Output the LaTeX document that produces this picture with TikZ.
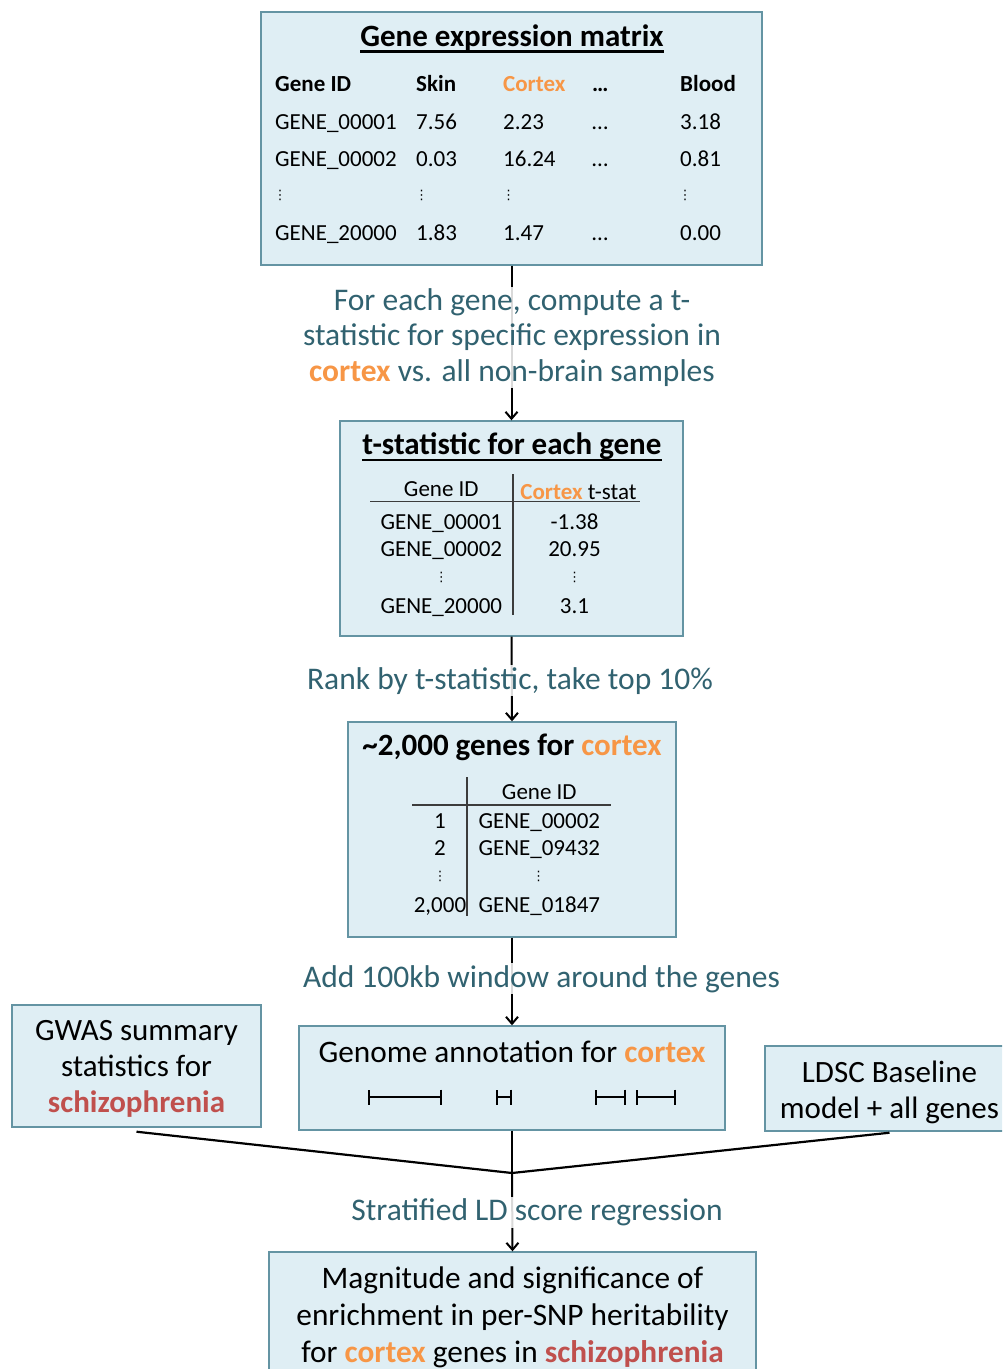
\documentclass[tikz,border=0pt]{standalone}
\usepackage{fontspec}
\setmainfont{Carlito}
\newfontfamily\dejavu{DejaVu Sans}
\usetikzlibrary{arrows.meta}
\definecolor{boxfill}{RGB}{223,238,244}
\definecolor{boxline}{RGB}{100,148,163}
\definecolor{flowtxt}{RGB}{49,98,112}
\definecolor{ctxorange}{RGB}{247,150,70}
\definecolor{sczred}{RGB}{192,80,77}
\definecolor{tabline}{RGB}{60,60,60}
\newcommand{\fsz}[1]{\fontsize{#1}{#1}\selectfont}
\newcommand{\ctxw}[1]{\textbf{\textcolor{ctxorange}{#1}}}
\newcommand{\sczw}[1]{\textbf{\textcolor{sczred}{#1}}}
\begin{document}
\begin{tikzpicture}[x=1pt,y=-1pt,
  box/.style={draw=boxline, fill=boxfill, line width=1.4pt, inner sep=0pt},
  title/.style={inner sep=0pt, anchor=base, font={\fsz{31}\bfseries}},
  cell/.style={inner sep=0pt, anchor=base west, font={\fsz{23}}},
  hcell/.style={inner sep=0pt, anchor=base west, font={\fsz{23}\bfseries}},
  ccell/.style={inner sep=0pt, anchor=base, font={\fsz{23}}},
  vd/.style={inner sep=0pt, anchor=base, font={\dejavu\fsz{13}}},
  flow/.style={text=flowtxt, font={\fontsize{31.5}{35.5}\selectfont}, align=center, fill=white, fill opacity=0.85, text opacity=1, inner sep=2pt},
  btxt/.style={font={\fontsize{31}{36}\selectfont}, align=center, inner sep=0pt},
  arr/.style={line width=2pt, -{Straight Barb[length=7pt,width=12pt,line width=2pt]}},
  conn/.style={line width=2.2pt},
  tabl/.style={draw=tabline, line width=1.6pt},
  uline/.style={line width=2.2pt},
  ival/.style={line width=2pt, {Bar[width=15pt,line width=2pt]}-{Bar[width=15pt,line width=2pt]}}
]
\useasboundingbox (0,0) rectangle (1002,1369);
\clip (0,0) rectangle (1002,1369);

% ---------- Box 1: gene expression matrix
\node[box, minimum width=501pt, minimum height=253pt] (gem) at (511.5,138.5) {};
\node[title] (gemt) at (512,46.5) {Gene expression matrix};
\draw[uline] ([yshift=-5pt]gemt.base west) -- ([yshift=-5pt]gemt.base east);
\node[hcell] (h1) at (275,91.5) {Gene ID};
\node[hcell] (h2) at (416,91.5) {Skin};
\node[hcell] (h3) at (503,91.5) {\textcolor{ctxorange}{Cortex}};
\node[hcell] (h4) at (592,91.5) {…};
\node[hcell] (h5) at (680,91.5) {Blood};
\node[cell] (r11) at (275,129) {GENE\_00001};
\node[cell] (r12) at (416,129) {7.56};
\node[cell] (r13) at (503,129) {2.23};
\node[cell] (r14) at (592,129) {…};
\node[cell] (r15) at (680,129) {3.18};
\node[cell] (r21) at (275,166) {GENE\_00002};
\node[cell] (r22) at (416,166) {0.03};
\node[cell] (r23) at (503,166) {16.24};
\node[cell] (r24) at (592,166) {…};
\node[cell] (r25) at (680,166) {0.81};
\node[vd] (v11) at (280,199) {⋮};
\node[vd] (v12) at (421.5,199) {⋮};
\node[vd] (v13) at (508.5,199) {⋮};
\node[vd] (v15) at (685,199) {⋮};
\node[cell] (r41) at (275,240) {GENE\_20000};
\node[cell] (r42) at (416,240) {1.83};
\node[cell] (r43) at (503,240) {1.47};
\node[cell] (r44) at (592,240) {…};
\node[cell] (r45) at (680,240) {0.00};

% ---------- Box 2: t-statistic
\node[box, minimum width=343pt, minimum height=215pt] (tst) at (511.5,528.5) {};
\node[title] (tstt) at (512,454.5) {t-statistic for each gene};
\draw[uline] ([yshift=-5.5pt]tstt.base west) -- ([yshift=-5.5pt]tstt.base east);
\node[ccell] (th1) at (441.3,496.3) {Gene ID};
\node[ccell] (th2) at (578.5,499.7) {\ctxw{Cortex} t-stat};
\draw[tabl] (370,501.5) -- (640,501.5);
\draw[tabl] (513,474) -- (513,615);
\node[ccell] (t11) at (441.3,529) {GENE\_00001};
\node[ccell] (t12) at (574.5,529) {-1.38};
\node[ccell] (t21) at (441.3,556.3) {GENE\_00002};
\node[ccell] (t22) at (574.5,556.3) {20.95};
\node[vd] (tv1) at (441.3,581) {⋮};
\node[vd] (tv2) at (574.5,581) {⋮};
\node[ccell] (t41) at (441.3,613) {GENE\_20000};
\node[ccell] (t42) at (574.5,613) {3.1};

% ---------- Box 3: top genes
\node[box, minimum width=328pt, minimum height=215pt] (top) at (512,829.5) {};
\node[title] (topt) at (512,755.3) {\textasciitilde 2,000 genes for \textcolor{ctxorange}{cortex}};
\node[ccell] (gh2) at (539.3,799.7) {Gene ID};
\draw[tabl] (412,805) -- (611,805);
\draw[tabl] (467,777) -- (467,916);
\node[ccell] (g11) at (440,828) {1};
\node[ccell] (g12) at (539.3,828) {GENE\_00002};
\node[ccell] (g21) at (440,855.3) {2};
\node[ccell] (g22) at (539.3,855.3) {GENE\_09432};
\node[vd] (gv1) at (440,880.7) {⋮};
\node[vd] (gv2) at (538.5,880.7) {⋮};
\node[ccell] (g41) at (440,912.3) {2,000};
\node[ccell] (g42) at (539.3,912.3) {GENE\_01847};

% ---------- Box 4: genome annotation
\node[box, minimum width=426pt, minimum height=104pt] (ann) at (512,1078) {};
\node[inner sep=0pt, anchor=base, font={\fsz{31.3}}] (annt) at (512,1062) {Genome annotation for \ctxw{cortex}};
\draw[ival] (368,1097) -- (442,1097);
\draw[ival] (496,1097) -- (512,1097);
\draw[ival] (595,1097) -- (626,1097);
\draw[ival] (636,1097) -- (676,1097);

% ---------- side boxes
\node[box, minimum width=249pt, minimum height=122pt] (gwas) at (136.5,1066) {};
\node[btxt] (gwast) at (136.5,1069) {GWAS summary\\statistics for\\\sczw{schizophrenia}};
\node[box, minimum width=249pt, minimum height=85pt] (ldsc) at (889.5,1088.5) {};
\node[btxt] (ldsct) at (889.5,1092) {LDSC Baseline\\model + all genes};

% ---------- Box 5: result
\node[box, minimum width=487pt, minimum height=150pt] (res) at (512.5,1327) {};
\node[btxt, font={\fontsize{31.3}{36.7}\selectfont}] (rest) at (512.5,1317.5) {Magnitude and significance of\\enrichment in per-SNP heritability\\for \ctxw{cortex} genes in \sczw{schizophrenia}};

% ---------- connectors
\coordinate (merge) at (512,1173);
\draw[arr] (gem.south) -- (tst.north);
\draw[arr] (tst.south) -- (top.north);
\draw[arr] (top.south) -- (ann.north);
\draw[conn] ([yshift=-4pt]gwas.south) -- (merge);
\draw[conn] ([yshift=-1pt]ldsc.south) -- (merge);
\draw[conn] (ann.south) -- (merge);
\draw[arr] (merge) -- (res.north);

% ---------- flow labels
\node[flow] (l1) at (512,337.5) {For each gene, compute a t-\\statistic for specific expression in\\\ctxw{cortex} vs. all non-brain samples};
\node[flow, anchor=base] (l2) at (510,689) {Rank by t-statistic, take top 10\%};
\node[flow, anchor=base] (l3) at (541.5,987) {Add 100kb window around the genes};
\node[flow, anchor=base] (l4) at (537,1220.7) {Stratified LD score regression};
\end{tikzpicture}
\end{document}
